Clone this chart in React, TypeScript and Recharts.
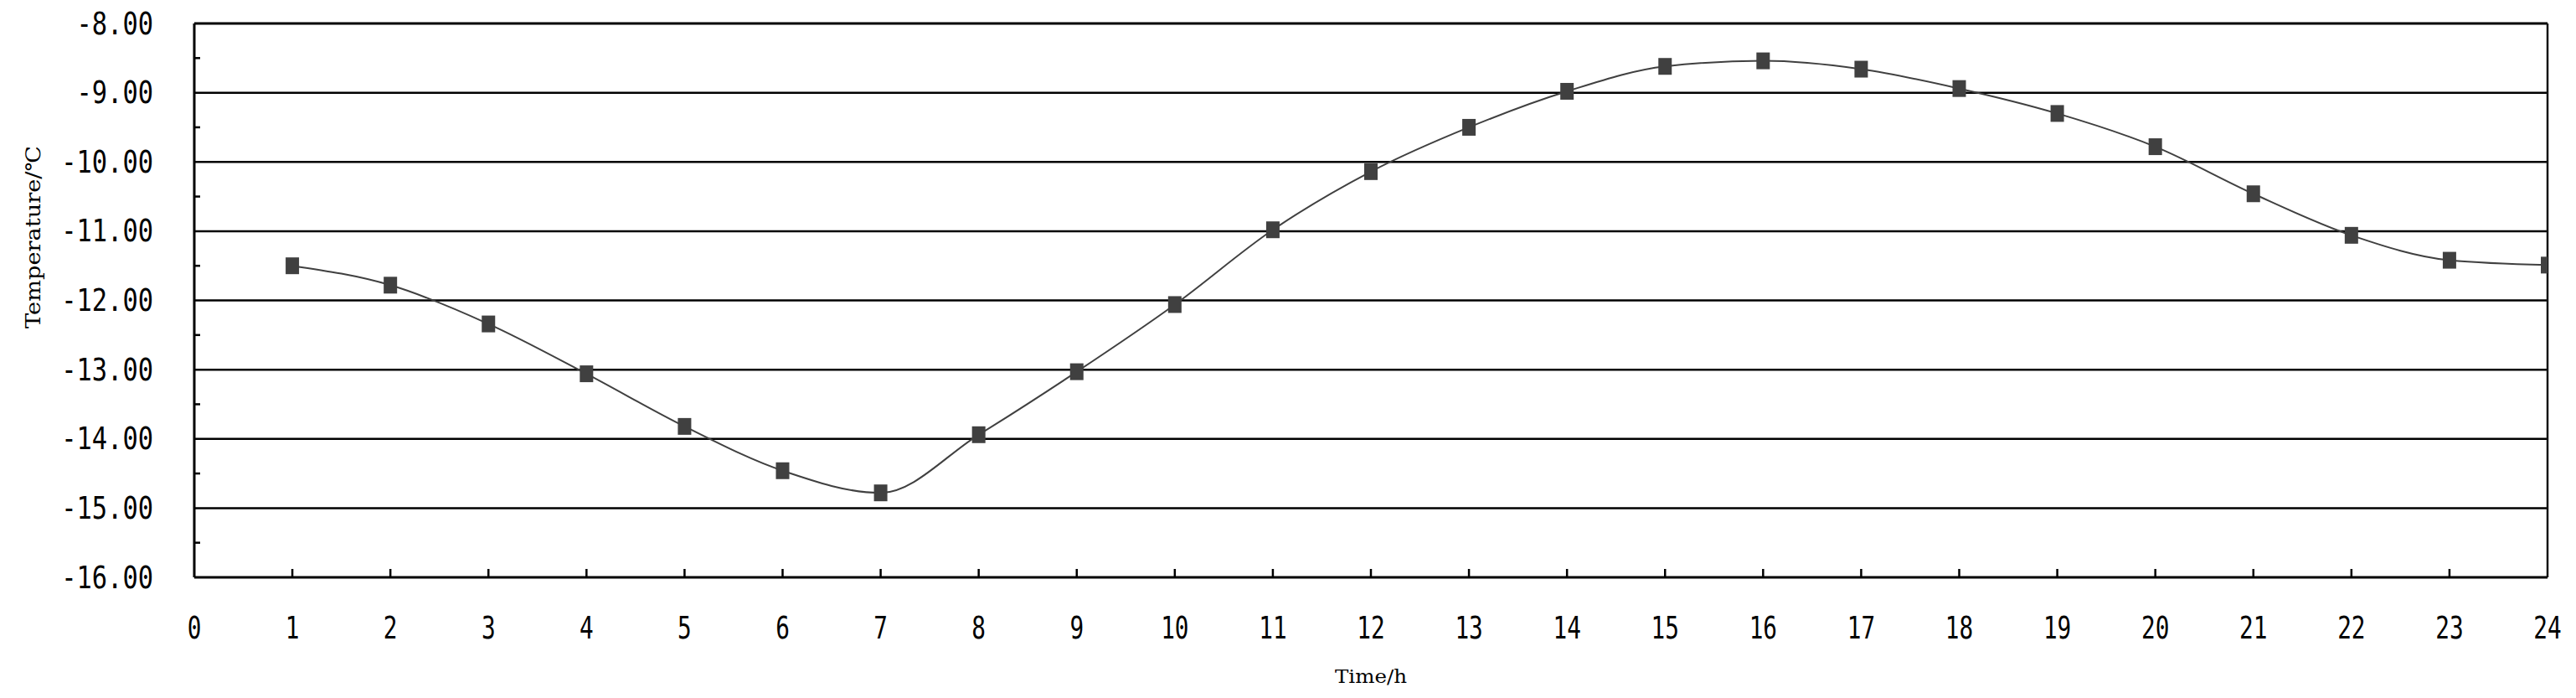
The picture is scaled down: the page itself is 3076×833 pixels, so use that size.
import * as React from 'react';
import {
  LineChart,
  Line,
  XAxis,
  YAxis,
  ReferenceLine
} from 'recharts';

// hourly temperature readings
const hours = [1, 2, 3, 4, 5, 6, 7, 8, 9, 10, 11, 12, 13, 14, 15, 16, 17, 18, 19, 20, 21, 22, 23, 24];
const temperatures = [
  -11.5, -11.78, -12.34, -13.06, -13.82, -14.46, -14.78, -13.94, -13.03, -12.06, -10.98, -10.14,
  -9.5, -8.98, -8.62, -8.54, -8.66, -8.94, -9.3, -9.78, -10.46, -11.06, -11.42, -11.49
];

const xTicks = [0, 1, 2, 3, 4, 5, 6, 7, 8, 9, 10, 11, 12, 13, 14, 15, 16, 17, 18, 19, 20, 21, 22, 23, 24];
const yTicks = [-16, -15.5, -15, -14.5, -14, -13.5, -13, -12.5, -12, -11.5, -11, -10.5, -10, -9.5, -9, -8.5, -8];
const gridValues = [-15, -14, -13, -12, -11, -10, -9];

const data = hours.map((hour, i) => ({ hour, temp: temperatures[i] }));

const TICK_FONT = '"DejaVu Sans Mono", monospace';
const LABEL_FONT = '"DejaVu Serif", "Liberation Serif", serif';
const MARK = '#404040';

const YTick = (props: any) => {
  const { x, y, payload } = props;
  const v = payload.value;
  if (!Number.isInteger(v)) {
    return <line x1={x} y1={y} x2={x + 7} y2={y} stroke="#000" strokeWidth={2.5} />;
  }
  const text = v.toFixed(2);
  return (
    <text
      x={x - 49}
      y={y}
      textAnchor="end"
      dominantBaseline="central"
      fontFamily={TICK_FONT}
      fontSize={37}
      fill="#000"
      textLength={text.length * 18.3}
      lengthAdjust="spacingAndGlyphs"
    >
      {text}
    </text>
  );
};

const XTick = (props: any) => {
  const { x, y, payload } = props;
  const text = String(payload.value);
  return (
    <g>
      {payload.value !== 0 && payload.value !== 24 && (
        <line x1={x} y1={y - 10} x2={x} y2={y} stroke="#000" strokeWidth={2.5} />
      )}
      <text
        x={x}
        y={y + 60}
        textAnchor="middle"
        dominantBaseline="central"
        fontFamily={TICK_FONT}
        fontSize={38}
        fill="#000"
        textLength={text.length * 16.7}
        lengthAdjust="spacingAndGlyphs"
      >
        {text}
      </text>
    </g>
  );
};

const SquareDot = (props: any) => {
  const { cx, cy } = props;
  if (cx == null || cy == null) return null;
  return <rect x={cx - 8} y={cy - 10} width={16} height={20} fill={MARK} />;
};

const YLabel = () => (
  <text
    x={40}
    y={283}
    transform="rotate(-90, 40, 283)"
    textAnchor="middle"
    dominantBaseline="central"
    fontFamily={LABEL_FONT}
    fontSize={24}
    fill="#000"
    textLength={218}
    lengthAdjust="spacingAndGlyphs"
  >
    Temperature/℃
  </text>
);

const XLabel = () => (
  <text
    x={1637}
    y={807}
    textAnchor="middle"
    dominantBaseline="central"
    fontFamily={LABEL_FONT}
    fontSize={23}
    fill="#000"
    textLength={86}
    lengthAdjust="spacingAndGlyphs"
  >
    Time/h
  </text>
);

export default function App() {
  return (
    <div style={{ position: 'absolute', left: 0, top: 0, background: '#fff' }}>
      <LineChart
        width={3076}
        height={833}
        data={data}
        margin={{ top: 28, right: 34, bottom: 0, left: 0 }}
      >
        <XAxis
          type="number"
          dataKey="hour"
          domain={[0, 24]}
          ticks={xTicks}
          interval={0}
          height={144}
          tickSize={0}
          tickMargin={0}
          tickLine={false}
          tick={<XTick />}
          axisLine={{ stroke: '#000', strokeWidth: 3 }}
          label={<XLabel />}
          allowDataOverflow
        />
        <YAxis
          type="number"
          domain={[-16, -8]}
          ticks={yTicks}
          interval={0}
          width={232}
          tickSize={0}
          tickMargin={0}
          tickLine={false}
          tick={<YTick />}
          axisLine={{ stroke: '#000', strokeWidth: 3 }}
          label={<YLabel />}
          allowDataOverflow
        />
        {gridValues.map(v => (
          <ReferenceLine key={v} y={v} stroke="#000" strokeWidth={2.5} />
        ))}
        <ReferenceLine y={-8} stroke="#000" strokeWidth={3} />
        <ReferenceLine x={24} stroke="#111" strokeWidth={2.5} />
        <Line
          type="monotone"
          dataKey="temp"
          stroke={MARK}
          strokeWidth={2}
          dot={<SquareDot />}
          activeDot={false}
          isAnimationActive={false}
        />
      </LineChart>
    </div>
  );
}
